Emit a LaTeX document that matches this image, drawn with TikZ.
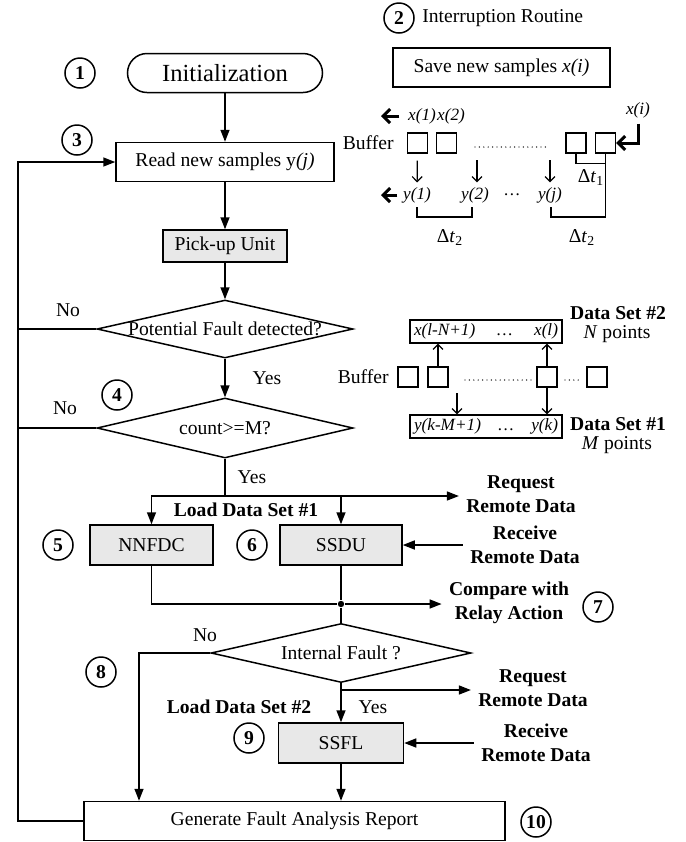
\documentclass[tikz,border=0pt]{standalone}
\usepackage{fontspec}
\setmainfont{Liberation Serif}
\usetikzlibrary{positioning,shapes.geometric,arrows.meta}

\begin{document}
\begin{tikzpicture}[x=0.5pt, y=-0.5pt, line width=0.75pt,
    >={Triangle[length=6pt,width=4.5pt]},
    every node/.style={font=\fontsize{9.8}{12}\selectfont},
    proc/.style={draw, align=center, inner sep=0pt, minimum height=19.5pt},
    unit/.style={proc, fill=gray!18, minimum height=20pt},
    dec/.style={draw, diamond, inner sep=0pt},
    num/.style={draw, circle, minimum size=15pt, inner sep=0pt, font=\bfseries\fontsize{9.8}{12}\selectfont},
    note/.style={align=center, font=\bfseries\fontsize{9.8}{12}\selectfont},
    small/.style={inner sep=0pt, font=\itshape\fontsize{8.6}{10}\selectfont},
    cell/.style={draw, line width=0.6pt, minimum size=10pt, inner sep=0pt},
    dataset/.style={draw, line width=0.6pt, text width=72pt, inner xsep=2pt, inner ysep=0pt, minimum height=11.5pt, font=\itshape\fontsize{8.6}{10}\selectfont},
    thinarrow/.style={line width=0.6pt, -{Straight Barb[length=2.5pt,width=5pt]}},
    fatarrow/.style={line width=1.5pt, -{Straight Barb[length=3.5pt,width=7pt]}},
    dots/.style={line width=0.7pt, line cap=round, dash pattern=on 0pt off 2.2pt},
    dot/.style={circle, fill, minimum size=3.2pt, inner sep=0pt}]
  \useasboundingbox (0,0) rectangle (686,842);

  % step numbers
  \node[num] (n1) at (80,73) {1};
  \node[num] (n2) at (399,18) {2};
  \node[num] (n3) at (77,140) {3};
  \node[num] (n4) at (117,395) {4};
  \node[num] (n5) at (58,545) {5};
  \node[num] (n6) at (252,545) {6};
  \node[num] (n7) at (598,607) {7};
  \node[num] (n8) at (101,672) {8};
  \node[num] (n9) at (249,738) {9};
  \node[num] (n10) at (536,822) {10};

  % main flow
  \node[draw, rounded corners=9.75pt, minimum width=97.5pt, minimum height=19.5pt, font=\fontsize{12.3}{14}\selectfont] (init) at (225,73) {Initialization};
  \node[proc, minimum width=109pt] (read) at (225,162) {Read new samples y\textit{(j)}};
  \node[unit, minimum width=62pt, minimum height=16pt] (pick) at (225,246) {Pick-up Unit};
  \node[dec, minimum width=128pt, minimum height=29pt] (fault) at (225,329) {\makebox[0pt]{Potential Fault detected?}};
  \node[dec, minimum width=128pt, minimum height=30pt] (count) at (225,428) {\makebox[0pt]{count>=M?}};
  \node[unit, minimum width=61.5pt] (nnfdc) at (151.5,545) {NNFDC};
  \node[unit, minimum width=61pt] (ssdu) at (341,545) {SSDU};
  \node[dec, minimum width=130pt, minimum height=29.5pt] (internal) at (341,653) {\makebox[0pt]{Internal Fault ?}};
  \node[unit, minimum width=62.5pt] (ssfl) at (341,743) {SSFL};
  \node[proc, minimum width=210.5pt] (report) at (294.5,821) {Generate Fault Analysis Report};

  \node (no1) at (68,310) {No};
  \node (no2) at (65,408) {No};
  \node (no3) at (205,635) {No};
  \node (yes1) at (267,378) {Yes};
  \node (yes2) at (252,477) {Yes};
  \node (yes3) at (373,707) {Yes};
  \node[note] (load1) at (246,510) {Load Data Set \#1};
  \node[note] (load2) at (239,707) {Load Data Set \#2};
  \node[note] (req1) at (521,494) {Request\\Remote Data};
  \node[note] (rcv1) at (525,545) {Receive\\Remote Data};
  \node[note] (cmp) at (509,603) {Compare with\\Relay Action};
  \node[note] (req2) at (533,688) {Request\\Remote Data};
  \node[note] (rcv2) at (536,743) {Receive\\Remote Data};

  \coordinate (fb) at (18,821);
  \coordinate (split) at (225,496);
  \coordinate (split2) at (341,690);
  \coordinate (back) at (139,653);
  \node[dot] (join) at (341,604) {};

  \draw[->] (init) -- (read);
  \draw[->] (read) -- (pick);
  \draw[->] (pick) -- (fault);
  \draw[->] (fault) -- (count);
  \draw (count) -- (split);
  \draw[->] (split) -| (nnfdc);
  \draw[->] (split -| ssdu) -- (ssdu);
  \draw[->] (split) -- (split -| req1.west);
  \draw[->] (rcv1) -- (ssdu);
  \draw (nnfdc) |- (join);
  \draw (ssdu) -- (join);
  \draw[->] (join) -- (join -| cmp.west);
  \draw (join) -- (internal);
  \draw[->] (internal) -- (ssfl);
  \draw[->] (split2) -- (split2 -| req2.west);
  \draw[->] (rcv2) -- (ssfl);
  \draw[->] (ssfl) -- (ssfl |- report.north);
  \draw[->] (internal.west) -- (back) -- (back |- report.north);
  \draw[->] (report) -- (fb) |- (read);
  \draw (fault) -- (fault -| fb);
  \draw (count) -- (count -| fb);

  % interruption routine
  \node[anchor=west] (title) at (415,18) {Interruption Routine};
  \node[proc, minimum width=108.5pt] (save) at (501.5,67.5) {Save new samples \textit{x(i)}};
  \node[anchor=east] (buf1) at (401,143) {Buffer};
  \node[cell] (a1) at (417.5,143) {};
  \node[cell] (a2) at (446.5,143) {};
  \node[cell] (a3) at (576,143) {};
  \node[cell] (a4) at (605.5,143) {};
  \draw[dots] (475,147) -- (547,147);
  \node[small] (x1) at (422,116) {x(1)};
  \node[small] (x2) at (451,116) {x(2)};
  \node[small] (xi) at (638,110) {x(i)};
  \coordinate (out1) at (381,116);
  \draw[fatarrow, shorten <=4pt] (x1) -- (out1);
  \draw[fatarrow, shorten <=2.5pt] (xi) |- (a4);
  \node[small] (y1) at (417,195) {y(1)};
  \node[small] (y2) at (475,195) {y(2)};
  \node[small, font=\fontsize{8.6}{10}\selectfont] (ydots) at (512,195) {\dots};
  \node[small] (yj) at (550,195) {y(j)};
  \coordinate (s2) at (477,160);
  \coordinate (s3) at (550,160);
  \coordinate (out2) at (381,195);
  \draw[thinarrow, shorten <=3.5pt, shorten >=2pt] (a1) -- (y1);
  \draw[thinarrow, shorten >=2pt] (s2) -- (s2 |- y2.north);
  \draw[thinarrow, shorten >=2pt] (s3) -- (s3 |- yj.north);
  \draw[fatarrow, shorten <=2.5pt] (y1) -- (out2);
  \coordinate (k1) at (417,207);
  \coordinate (k2) at (472,207);
  \coordinate (k3) at (551,207);
  \draw[line width=0.6pt] (a3.south) -- ++(0,10) -| (a4.south);
  \draw[line width=0.6pt] (k1) -- ++(0,10) -| (k2);
  \draw[line width=0.6pt] (k3) -- ++(0,10) -| (a4.south);
  \node (dt1) at (591,178) {Δ\textit{t}\textsubscript{1}};
  \node (dt2a) at (450,238) {Δ\textit{t}\textsubscript{2}};
  \node (dt2b) at (582,238) {Δ\textit{t}\textsubscript{2}};

  % data sets
  \node[dataset] (set2) at (486,331.5) {x(l-N+1)\hfill\dots\hfill x(l)};
  \node[dataset] (set1) at (486,426.5) {y(k-M+1)\hfill\dots\hfill y(k)};
  \node[anchor=east] (buf2) at (396,377) {Buffer};
  \node[cell] (c1) at (408,377) {};
  \node[cell] (c2) at (438,377) {};
  \node[cell] (c3) at (547,377) {};
  \node[cell] (c4) at (597,377) {};
  \draw[dots] (465,380) -- (535,380);
  \draw[dots] (565,380) -- (579,380);
  \coordinate (s4) at (457,393);
  \draw[thinarrow] (c2) -- (c2 |- set2.south);
  \draw[thinarrow] (c3) -- (c3 |- set2.south);
  \draw[thinarrow] (s4) -- (s4 |- set1.north);
  \draw[thinarrow] (c3) -- (c3 |- set1.north);
  \node[note] (ds2) at (618,313) {Data Set \#2};
  \node (np) at (617,334) {\textit{N} points};
  \node[note] (ds1) at (618,424) {Data Set \#1};
  \node (mp) at (617,445) {\textit{M} points};
\end{tikzpicture}
\end{document}
